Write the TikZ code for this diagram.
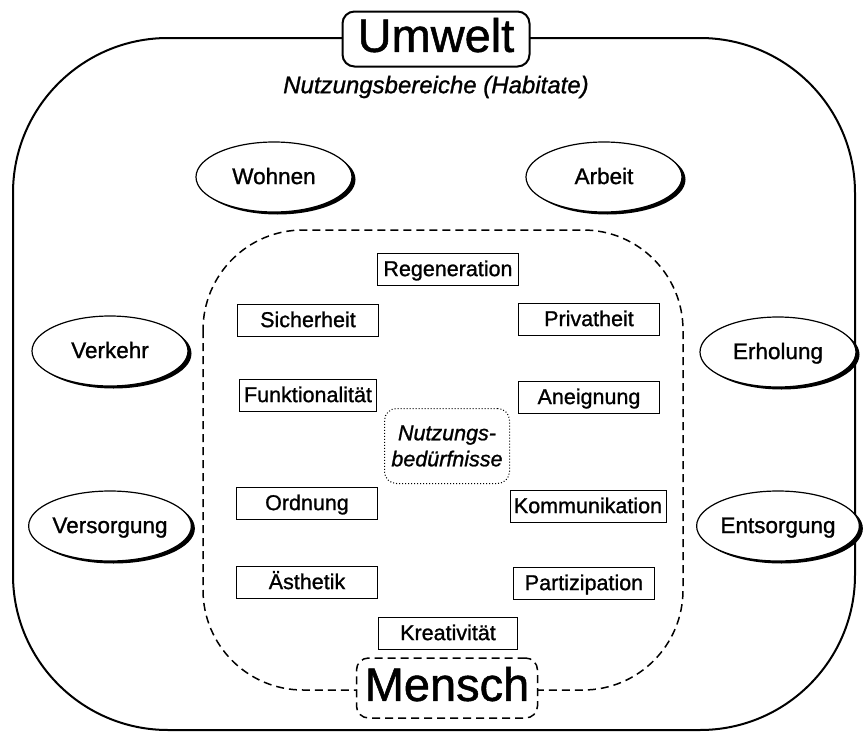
\documentclass[tikz,border=0pt]{standalone}
\usepackage{fontspec}
\setmainfont{Liberation Sans}[FakeBold=1.1]
\usetikzlibrary{shapes.geometric,shadows}

\begin{document}
\begin{tikzpicture}[
        x=1pt, y=-1pt,
        habitatNode/.style={ellipse, draw, line width=1.2pt, fill=white, minimum width=156pt, minimum height=70pt,
            inner sep=0pt, text height=17.6pt, text depth=3.5pt, font=\fontsize{22.5}{27}\selectfont,
            drop shadow={shadow xshift=3.5pt, shadow yshift=-2.5pt, fill=black, opacity=1}},
        needNode/.style={rectangle, draw, line width=1pt, minimum width=141pt, minimum height=32pt,
            inner xsep=3pt, inner ysep=0pt, text height=17.2pt, text depth=3pt,
            font=\fontsize{21.5}{26}\selectfont},
        titleNode/.style={rectangle, rounded corners=12pt, fill=white, inner sep=0pt,
            text height=35pt, text depth=9.2pt, font=\fontsize{47}{50}\selectfont}
    ]
        \useasboundingbox (0,0) rectangle (863,736);

        % Frames
        \draw[line width=2pt, rounded corners=155pt] (13,38) rectangle (855,730);
        \draw[line width=1.5pt, dash pattern=on 8pt off 5pt, rounded corners=100pt] (203,230) rectangle (683,690);

        % Umwelt and Mensch
        \node[titleNode, draw, line width=2pt, minimum width=187pt, minimum height=55pt] (umwelt) at (436,39) {Umwelt};
        \node[titleNode, draw, line width=1.5pt, dash pattern=on 8pt off 5pt, minimum width=181pt, minimum height=60pt] (mensch) at (447,688) {Mensch};
        \node[font=\fontsize{24}{28}\selectfont\itshape] (bereiche) at (436,87) {Nutzungsbereiche (Habitate)};

        % Habitats
        \node[habitatNode] (wohnen) at (274,177) {Wohnen};
        \node[habitatNode] (arbeit) at (604,177) {Arbeit};
        \node[habitatNode] (verkehr) at (110,351) {Verkehr};
        \node[habitatNode] (erholung) at (778,352) {Erholung};
        \node[habitatNode] (versorgung) at (110,526) {Versorgung};
        \node[habitatNode] (entsorgung) at (778,526) {Entsorgung};

        % Needs
        \node[needNode] (regeneration) at (448,269) {Regeneration};
        \node[needNode] (sicherheit) at (308,320) {Sicherheit};
        \node[needNode] (privatheit) at (589,319) {Privatheit};
        \node[needNode, minimum width=137pt] (funktion) at (308,395) {Funktionalität};
        \node[needNode] (aneignung) at (589,397) {Aneignung};
        \node[needNode] (ordnung) at (307,503) {Ordnung};
        \node[needNode, minimum width=156pt] (kommunikation) at (588,506) {Kommunikation};
        \node[needNode] (aesthetik) at (307,582) {Ästhetik};
        \node[needNode] (partizipation) at (584,583) {Partizipation};
        \node[needNode, minimum width=139pt] (kreativitaet) at (448,633) {Kreativität};

        % Centre
        \node[rectangle, draw, dotted, line width=1pt, rounded corners=12pt, minimum width=125pt, minimum height=75pt,
            align=center, font=\fontsize{21.5}{26}\selectfont\itshape] (bedarf) at (447,446) {Nutzungs-\\bedürfnisse};
    \end{tikzpicture}
\end{document}
